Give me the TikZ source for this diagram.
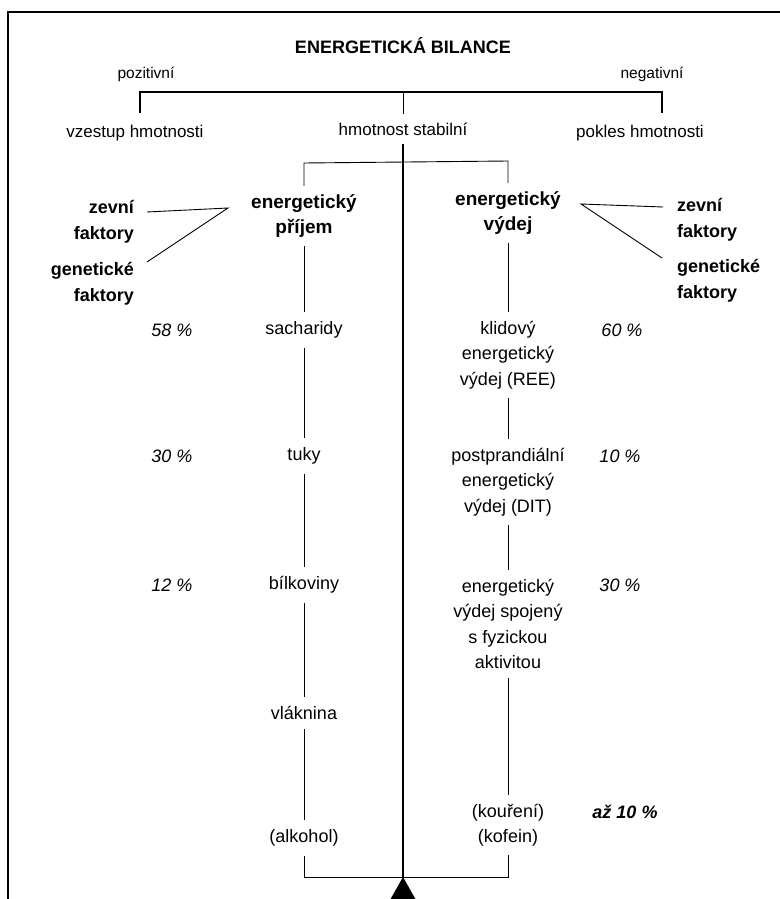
\documentclass[tikz,border=0pt]{standalone}
\usepackage{fontspec}
\setmainfont{Liberation Sans}
\begin{document}
\begin{tikzpicture}[x=1pt,y=-1pt,
  lbl/.style={font=\fontsize{18}{25.5}\selectfont, align=center, inner sep=0pt},
  toplbl/.style={font=\fontsize{17}{20}\selectfont, inner xsep=0pt, inner ysep=8pt},
  sidelbl/.style={font=\fontsize{15.5}{18}\selectfont, inner sep=0pt},
  col/.style={font=\fontsize{18}{25.5}\selectfont, align=center, inner xsep=2pt, inner ysep=9pt},
  bcol/.style={font=\bfseries\fontsize{19}{25.5}\selectfont, align=center, inner xsep=2pt, inner ysep=8pt},
  fac/.style={font=\bfseries\fontsize{18}{26}\selectfont, inner sep=0pt},
  pct/.style={font=\itshape\fontsize{18}{22}\selectfont, inner sep=0pt},
  thin/.style={line width=0.9pt},
  thick/.style={line width=2.6pt},
]
\useasboundingbox (0,0) rectangle (779,899);
% frame
\draw[line width=2.6pt] (8,900) -- (8,12) -- (780,12);

% title and top row
\node[font=\bfseries\fontsize{18}{22}\selectfont, inner sep=0pt] (title) at (403,46) {ENERGETICKÁ BILANCE};
\node[sidelbl] (poz) at (146,74) {pozitivní};
\node[sidelbl] (neg) at (652,74) {negativní};
\node[toplbl] (vze) at (135,133) {vzestup hmotnosti};
\node[toplbl] (stab) at (403,129) {hmotnost stabilní};
\node[toplbl] (pok) at (640,133) {pokles hmotnosti};

\coordinate (tl) at (140,92);
\coordinate (tm) at (403,92);
\coordinate (tr) at (662,92);
\coordinate (tlb) at (140,113);
\coordinate (trb) at (662,113);
\draw[thick] (tlb) -- (tl) -- (tr) -- (trb);
\draw[thin] (tm) -- (stab.north);

% second level
\node[bcol] (prij) at (304,216) {energetický\\příjem};
\node[bcol] (vydej) at (508,213) {energetický\\výdej};
\coordinate (b2l) at (304,163);
\coordinate (b2r) at (508,161);
\draw[thin] (prij.north) -- (b2l) -- (b2r) -- (vydej.north);

% factors left
\node[fac, align=right, anchor=east] (zl) at (134,222) {zevní\\faktory};
\node[fac, align=right, anchor=east] (gl) at (134,284) {genetické\\faktory};
\coordinate (zlA) at (147,212);
\coordinate (glA) at (147,262);
\coordinate (pjA) at (228,208);
\draw[thin] (zlA) -- (pjA) -- (glA);
% factors right
\node[fac, align=left, anchor=west] (zr) at (677,220) {zevní\\faktory};
\node[fac, align=left, anchor=west] (gr) at (677,281) {genetické\\faktory};
\coordinate (zrA) at (663,207);
\coordinate (grA) at (662,258);
\coordinate (vdA) at (581,204);
\draw[thin] (zrA) -- (vdA) -- (grA);

% left column
\node[col] (sach) at (304,330) {sacharidy};
\node[col] (tuky) at (304,456) {tuky};
\node[col] (bilk) at (304,585) {bílkoviny};
\node[col] (vlak) at (304,713) {vláknina};
\node[col] (alk) at (304,838) {(alkohol)};
\draw[thin] (prij.south) -- (sach.north);
\draw[thin] (sach.south) -- (tuky.north);
\draw[thin] (tuky.south) -- (bilk.north);
\draw[thin] (bilk.south) -- (vlak.north);
\draw[thin] (vlak.south) -- (alk.north);

% right column
\node[col] (ree) at (508,355) {klidový\\energetický\\výdej (REE)};
\node[col] (dit) at (508,482) {postprandiální\\energetický\\výdej (DIT)};
\node[col] (akt) at (508,624) {energetický\\výdej spojený\\s fyzickou\\aktivitou};
\node[col] (kk) at (508,825) {(kouření)\\(kofein)};
\draw[thin] (vydej.south) -- (ree.north);
\draw[thin] (ree.south) -- (dit.north);
\draw[thin] (dit.south) -- (akt.north);
\draw[thin] (akt.south) -- (kk.north);

% percentages
\node[pct] (p58) at (172,330) {58 \%};
\node[pct] (p30) at (172,456) {30 \%};
\node[pct] (p12) at (172,585) {12 \%};
\node[pct] (p60) at (622,330) {60 \%};
\node[pct] (p10) at (620,456) {10 \%};
\node[pct] (p30r) at (620,585) {30 \%};
\node[pct, font=\bfseries\itshape\fontsize{18}{22}\selectfont] (paz) at (625,812) {až 10 \%};

% balance
\coordinate (base) at (403,877);
\draw[line width=1.3pt] (stab.south) -- (base);
\draw[thin] (alk.south) -- (alk.south |- base) -- (kk.south |- base) -- (kk.south);
\fill (base) -- (390,900) -- (416,900) -- cycle;
\end{tikzpicture}
\end{document}
